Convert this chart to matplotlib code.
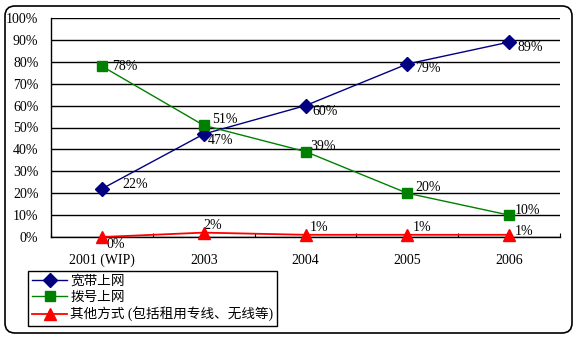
import numpy as np
import matplotlib
matplotlib.use("Agg")
import matplotlib.pyplot as plt
from matplotlib.patches import FancyBboxPatch
from matplotlib.transforms import IdentityTransform

plt.rcParams['font.family'] = ['Liberation Serif', 'Noto Sans CJK SC', 'DejaVu Sans']

# 数据
years = ['2001 (WIP)', '2003', '2004', '2005', '2006']
broadband = [22, 47, 60, 79, 89]
dialup = [78, 51, 39, 20, 10]
other = [0, 2, 1, 1, 1]
series_names = ['宽带上网', '拨号上网', '其他方式 (包括租用专线、无线等)']

W, H = 579, 339
fig = plt.figure(figsize=(W / 100, H / 100), dpi=100)
ax = fig.add_axes([51 / W, 1 - 237 / H, (560 - 51) / W, (237 - 18) / H])

x = np.arange(len(years))
ax.plot(x, broadband, color='#000080', lw=1, marker='D', ms=7, label=series_names[0])
ax.plot(x, dialup, color='#008000', lw=1, marker='s', ms=7, label=series_names[1])
ax.plot(x, other, color='#ff0000', lw=1.3, marker='^', ms=9, label=series_names[2],
        clip_on=False, zorder=5)

# 数据标签 (偏移量单位: 像素)
off_bb = [(20, 4), (4, -6), (7, -6), (8, -5), (8, -5)]
off_du = [(10, 0), (8, 6), (5, 5), (8, 6), (6, 5)]
off_ot = [(5, -7), (0, 7), (4, 7), (5, 7), (6, 3)]
for vals, offs in [(broadband, off_bb), (dialup, off_du), (other, off_ot)]:
    for i, v in enumerate(vals):
        ax.annotate(f'{v}%', (x[i], v), xytext=offs[i], textcoords='offset pixels',
                    ha='left', va='center', fontsize=10, color='black')

ax.set_xlim(-0.5, len(years) - 0.5)
ax.set_ylim(0, 100)
ax.set_yticks(np.arange(0, 101, 10))
ax.set_yticklabels([f'{v}%' for v in range(0, 101, 10)], fontsize=10)
ax.set_xticks(x)
ax.set_xticklabels(years, fontsize=10)
ax.set_xticks(np.arange(-0.5, len(years), 1), minor=True)
ax.tick_params(axis='x', which='major', length=0, pad=12)
ax.tick_params(axis='x', which='minor', direction='in', length=3, width=0.8)
ax.tick_params(axis='y', length=0, pad=9)
ax.grid(axis='y', color='black', lw=1)
ax.set_axisbelow(True)
for s in ['top', 'right']:
    ax.spines[s].set_visible(False)
for s in ['left', 'bottom']:
    ax.spines[s].set_linewidth(1)

leg = ax.legend(loc='upper left', bbox_to_anchor=(28 / W, 1 - 271 / H),
                bbox_transform=fig.transFigure, fancybox=False, edgecolor='black',
                framealpha=1, handlelength=2.6, handletextpad=0.2,
                borderpad=0.3, labelspacing=0.2, borderaxespad=0,
                prop={'family': ['Liberation Serif', 'Noto Sans CJK SC'], 'size': 9.8})
leg.get_frame().set_linewidth(1)

# 外框
frame = FancyBboxPatch((5, 6), 567, 327, boxstyle='round,pad=0,rounding_size=10',
                       transform=IdentityTransform(), fill=False, ec='black', lw=1.2)
fig.patches.append(frame)

fig.savefig('out.png', dpi=100)
